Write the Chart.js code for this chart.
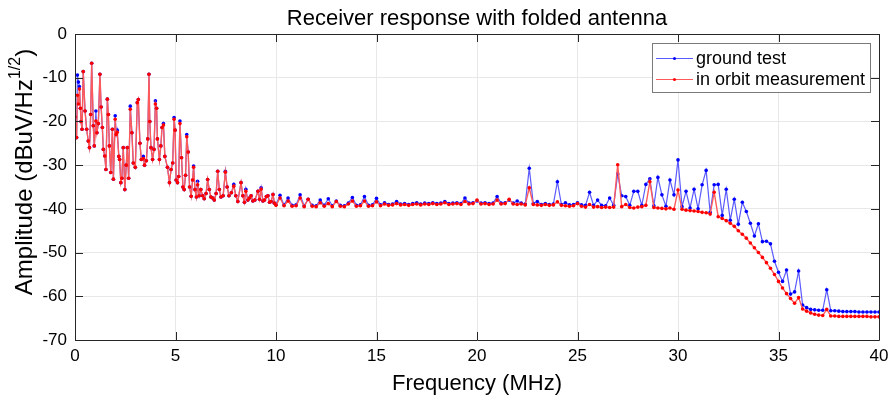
<!DOCTYPE html>
<html><head><meta charset="utf-8">
<script src="https://cdn.jsdelivr.net/npm/chart.js@4/dist/chart.umd.min.js"></script>
<style>html,body{margin:0;padding:0;background:#fff}#wrap{width:895px;height:401px}</style>
</head><body><div id="wrap"><canvas id="c" width="895" height="401"></canvas></div>
<script>
// ---- frequency (MHz), 0-10 MHz region ----
const lowFreq = [
0.00,0.08,0.12,0.17,0.22,0.27,0.30,0.35,0.41,0.50,
0.58,0.66,0.72,0.78,0.83,0.91,0.96,1.04,1.09,1.16,
1.24,1.30,1.36,1.41,1.48,1.54,1.61,1.66,1.71,1.78,
1.86,1.91,2.00,2.05,2.10,2.18,2.22,2.28,2.33,2.40,
2.48,2.55,2.60,2.67,2.75,2.83,2.90,3.00,3.10,3.15,
3.23,3.30,3.40,3.46,3.55,3.62,3.68,3.72,3.78,3.86,
3.93,4.00,4.06,4.10,4.20,4.27,4.33,4.40,4.47,4.60,
4.70,4.78,4.86,4.93,4.98,5.03,5.10,5.16,5.22,5.30,
5.37,5.43,5.50,5.56,5.63,5.70,5.78,5.85,5.90,5.97,
6.04,6.10,6.18,6.26,6.35,6.43,6.52,6.60,6.68,6.76,
6.85,6.93,7.02,7.10,7.18,7.26,7.37,7.48,7.57,7.66,
7.78,7.90,8.00,8.10,8.26,8.35,8.43,8.50,8.60,8.68,
8.76,8.85,8.95,9.10,9.18,9.26,9.35,9.43,9.52,9.60,
9.68,9.76,9.85,9.92];
const lowGround = [
-19.0,-23.7,-9.4,-11.0,-12.0,-17.0,-20.0,-21.8,-8.6,-17.6,
-21.8,-24.5,-26.0,-18.4,-6.7,-21.0,-25.6,-17.6,-22.6,-20.5,
-9.2,-16.7,-21.4,-26.4,-27.9,-31.0,-14.9,-18.4,-25.6,-31.7,
-21.8,-33.2,-18.7,-23.0,-22.0,-28.0,-28.7,-34.0,-33.0,-26.0,
-35.6,-30.0,-26.0,-33.0,-16.5,-22.6,-29.5,-30.5,-15.7,-15.0,
-25.0,-28.7,-28.0,-30.0,-29.0,-24.0,-9.2,-20.0,-26.0,-28.7,
-26.4,-15.3,-17.0,-24.0,-28.7,-25.6,-21.4,-20.5,-28.0,-30.5,
-34.0,-31.0,-29.5,-19.1,-22.0,-33.4,-34.0,-32.6,-19.9,-28.3,
-35.0,-35.6,-32.3,-23.0,-27.0,-35.0,-37.1,-33.4,-30.2,-35.6,
-37.3,-33.7,-37.0,-35.6,-37.0,-37.7,-36.5,-33.3,-35.6,-37.3,
-37.5,-38.0,-36.5,-31.4,-35.6,-37.3,-37.0,-31.4,-35.0,-37.0,
-36.3,-34.4,-37.0,-38.3,-34.0,-37.0,-38.5,-35.5,-38.0,-37.5,
-37.0,-38.2,-38.0,-36.0,-37.8,-35.2,-38.2,-38.0,-37.2,-37.0,
-38.5,-38.3,-36.7,-38.7];
const lowOrbit = [
-19.0,-23.7,-14.0,-16.0,-12.6,-17.0,-20.0,-21.8,-8.6,-17.6,
-21.8,-24.5,-26.0,-18.4,-6.7,-21.0,-25.6,-19.9,-22.6,-20.5,
-9.2,-16.7,-21.4,-26.4,-27.9,-31.0,-14.9,-18.4,-25.6,-31.7,
-21.8,-33.2,-19.5,-23.0,-22.5,-28.0,-28.7,-34.0,-33.0,-26.0,
-35.6,-30.0,-26.0,-33.0,-17.2,-22.6,-29.5,-30.5,-15.7,-15.0,
-25.0,-28.7,-28.5,-30.0,-29.0,-24.0,-9.2,-20.0,-26.0,-28.7,
-26.4,-16.0,-17.0,-24.0,-28.7,-25.6,-21.4,-20.8,-28.0,-30.5,
-34.0,-31.0,-29.5,-19.5,-22.0,-33.4,-34.0,-32.6,-20.5,-28.3,
-35.0,-35.6,-32.3,-23.5,-27.0,-35.0,-37.1,-33.4,-30.5,-35.6,
-37.3,-34.5,-37.0,-35.6,-37.0,-37.7,-36.5,-33.3,-35.6,-37.3,
-37.5,-38.0,-36.5,-31.4,-35.6,-37.3,-37.0,-31.6,-35.0,-37.0,
-36.3,-34.8,-37.0,-38.3,-34.0,-37.0,-38.5,-36.0,-38.0,-37.5,
-37.0,-38.2,-38.0,-36.0,-37.8,-35.5,-38.2,-38.0,-37.2,-37.0,
-38.5,-38.3,-36.7,-38.7];

// ---- frequency (MHz), 10-40 MHz region ----
const highFreq = [
10.0,10.2,10.4,10.6,10.8, 11.0,11.2,11.4,11.6,11.8,
12.0,12.2,12.4,12.6,12.8, 13.0,13.2,13.4,13.6,13.8,
14.0,14.2,14.4,14.6,14.8, 15.0,15.2,15.4,15.6,15.8,
16.0,16.2,16.4,16.6,16.8, 17.0,17.2,17.4,17.6,17.8,
18.0,18.2,18.4,18.6,18.8, 19.0,19.2,19.4,19.6,19.8,
20.0,20.2,20.4,20.6,20.8, 21.0,21.2,21.4,21.6,21.8,
22.0,22.2,22.4,22.6,22.8, 23.0,23.2,23.4,23.6,23.8,
24.0,24.2,24.4,24.6,24.8, 25.0,25.2,25.4,25.6,25.8,
26.0,26.2,26.4,26.6,26.8, 27.0,27.2,27.4,27.6,27.8,
28.0,28.2,28.4,28.6,28.8, 29.0,29.2,29.4,29.6,29.8,
30.0,30.2,30.4,30.6,30.8, 31.0,31.2,31.4,31.6,31.8,
32.0,32.2,32.4,32.6,32.8, 33.0,33.2,33.4,33.6,33.8,
34.0,34.2,34.4,34.6,34.8, 35.0,35.2,35.4,35.6,35.8,
36.0,36.2,36.4,36.6,36.8, 37.0,37.2,37.4,37.6,37.8,
38.0,38.2,38.4,38.6,38.8, 39.0,39.2,39.4,39.6,39.8,
40.0];
const highGround = [
-39.0,-36.9,-39.1,-37.5,-39.2, -39.1,-36.8,-39.3,-37.8,-39.2,
-39.3,-38.0,-39.2,-37.7,-39.3, -38.2,-39.2,-39.3,-38.7,-37.4,
-39.2,-39.1,-37.2,-39.2,-39.1, -37.6,-39.1,-38.6,-39.0,-38.9,
-38.3,-38.9,-38.8,-39.0,-38.8, -38.6,-38.9,-38.7,-38.8,-38.6,
-38.8,-38.7,-38.3,-38.8,-38.7, -38.6,-38.8,-37.5,-38.7,-38.6,
-38.2,-38.7,-38.6,-38.8,-38.7, -37.2,-38.7,-38.6,-38.0,-38.7,
-38.2,-38.7,-38.9,-30.7,-38.8, -38.3,-39.0,-38.8,-39.0,-38.9,
-33.8,-39.0,-38.6,-39.1,-39.0, -38.6,-39.1,-39.2,-36.2,-39.2,
-38.0,-39.2,-39.3,-37.5,-39.2, -32.0,-37.0,-37.2,-39.2,-36.0,
-36.0,-39.2,-34.4,-33.1,-39.3, -32.8,-36.8,-39.4,-33.4,-36.8,
-28.8,-39.5,-36.0,-39.8,-35.5, -40.0,-34.5,-31.2,-40.8,-34.5,
-34.4,-41.5,-35.5,-42.6,-37.8, -43.5,-38.5,-40.6,-43.3,-46.2,
-43.4,-47.5,-47.4,-48.0,-52.0, -54.5,-56.6,-54.0,-59.5,-59.0,
-54.2,-62.0,-62.6,-63.0,-63.1, -63.2,-63.2,-58.5,-63.3,-63.3,
-63.4,-63.5,-63.5,-63.5,-63.5, -63.6,-63.6,-63.6,-63.6,-63.6,
-63.6];
const highOrbit = [
-39.2,-37.5,-39.3,-38.2,-39.4, -39.3,-37.5,-39.5,-37.8,-39.4,
-39.5,-38.6,-39.4,-38.8,-39.5, -38.3,-39.4,-39.5,-38.9,-38.2,
-39.4,-39.3,-38.2,-39.4,-39.3, -38.4,-39.3,-38.9,-39.2,-39.1,
-38.8,-39.1,-39.0,-39.2,-39.0, -38.9,-39.1,-38.9,-39.0,-38.8,
-39.0,-38.9,-38.6,-39.0,-38.9, -38.8,-39.0,-38.3,-38.9,-38.8,
-38.0,-38.9,-38.8,-39.0,-38.9, -38.0,-38.9,-38.8,-37.8,-38.9,
-39.0,-38.9,-39.1,-35.2,-39.0, -39.1,-39.2,-39.0,-39.2,-39.1,
-38.4,-39.2,-39.3,-39.4,-39.3, -38.8,-39.4,-39.6,-39.0,-39.6,
-39.5,-39.7,-39.6,-39.7,-39.6, -29.9,-39.5,-39.0,-39.7,-39.8,
-39.6,-39.5,-39.2,-33.8,-39.7, -39.8,-39.9,-40.0,-39.8,-40.1,
-35.7,-40.1,-40.3,-40.4,-40.5, -40.6,-40.8,-40.9,-41.2,-36.2,
-41.8,-42.2,-42.7,-43.3,-44.0, -45.0,-45.8,-46.7,-47.8,-48.9,
-50.0,-51.1,-52.3,-53.6,-55.0, -56.6,-58.1,-59.4,-60.5,-61.6,
-60.3,-62.9,-63.4,-63.8,-64.1, -64.3,-64.4,-63.0,-64.5,-64.5,
-64.6,-64.6,-64.6,-64.6,-64.6, -64.6,-64.6,-64.6,-64.7,-64.7,
-64.7];

const xTicks = [0,5,10,15,20,25,30,35,40];
const yTicks = [0,-10,-20,-30,-40,-50,-60,-70];
const seriesNames = ['ground test','in orbit measurement'];
const chartTitle = 'Receiver response with folded antenna';

const freq = lowFreq.concat(highFreq);
const ground = lowGround.concat(highGround);
const orbit = lowOrbit.concat(highOrbit);
const toPts = v => freq.map((f,i)=>({x:f,y:v[i]}));

const AX = '#262626';
const FONT = '"Liberation Sans", Arial, Helvetica, sans-serif';

const framePlugin = {
  id:'frame',
  afterDatasetsDraw(chart){
    const {ctx, chartArea:a, scales:{x,y}} = chart;
    ctx.save();
    ctx.strokeStyle = AX; ctx.lineWidth = 1;
    ctx.beginPath();
    ctx.rect(Math.round(a.left)+0.5, Math.round(a.top)+0.5, Math.round(a.right-a.left), Math.round(a.bottom-a.top));
    const L = 8;
    xTicks.forEach(t=>{ const p=Math.round(x.getPixelForValue(t))+0.5;
      ctx.moveTo(p,a.bottom); ctx.lineTo(p,a.bottom-L);
      ctx.moveTo(p,a.top); ctx.lineTo(p,a.top+L); });
    yTicks.forEach(t=>{ const p=Math.round(y.getPixelForValue(t))+0.5;
      ctx.moveTo(a.left,p); ctx.lineTo(a.left+L,p);
      ctx.moveTo(a.right,p); ctx.lineTo(a.right-L,p); });
    ctx.stroke();
    // title centred over the axes
    ctx.fillStyle='#000'; ctx.font='22px '+FONT; ctx.textAlign='center'; ctx.textBaseline='alphabetic';
    ctx.fillText(chartTitle, (a.left+a.right)/2, 25);
    // legend
    const bx=652, by=43, bw=218, bh=49;
    ctx.fillStyle='#fff'; ctx.fillRect(bx,by,bw,bh);
    ctx.strokeStyle='#7a7a7a'; ctx.strokeRect(bx+0.5,by+0.5,bw,bh);
    const cols=['#0000ff','#ff0000'];
    const lcols=['rgb(90,90,255)','rgb(255,90,90)'];
    const rows=[58,79];
    ctx.font = '18px '+FONT; ctx.textBaseline='middle'; ctx.textAlign='left';
    rows.forEach((ry,i)=>{
      ctx.strokeStyle=lcols[i]; ctx.lineWidth=1;
      ctx.beginPath(); ctx.moveTo(656,ry+0.5); ctx.lineTo(693,ry+0.5); ctx.stroke();
      ctx.fillStyle=cols[i]; ctx.beginPath(); ctx.arc(674.5,ry+0.5,1.5,0,Math.PI*2); ctx.fill();
      ctx.fillStyle='#000'; ctx.fillText(seriesNames[i],696,ry+1);
    });
    // y axis title with superscript
    ctx.save();
    ctx.translate(24, 172);
    ctx.rotate(-Math.PI/2);
    const big='24px '+FONT, small='16px '+FONT;
    const p1='Amplitude (dBuV/Hz', p2='1/2', p3=')';
    ctx.font=big; const w1=ctx.measureText(p1).width, w3=ctx.measureText(p3).width;
    ctx.font=small; const w2=ctx.measureText(p2).width;
    let sx=-(w1+w2+w3)/2;
    ctx.fillStyle='#000'; ctx.textBaseline='alphabetic';
    ctx.font=big; ctx.fillText(p1,sx,8); sx+=w1;
    ctx.font=small; ctx.fillText(p2,sx,-4); sx+=w2;
    ctx.font=big; ctx.fillText(p3,sx,8);
    ctx.restore();
    ctx.restore();
  }
};

new Chart(document.getElementById('c'), {
  type:'line',
  data:{ datasets:[
    {label:seriesNames[0], order:1, data:toPts(ground), borderColor:'rgb(90,90,255)', backgroundColor:'#0000ff',
     pointBackgroundColor:'#0000ff', pointBorderWidth:0, pointRadius:1.8, borderWidth:1.2, tension:0},
    {label:seriesNames[1], order:0, data:toPts(orbit), borderColor:'rgb(255,90,90)', backgroundColor:'#ff0000',
     pointBackgroundColor:'#ff0000', pointBorderWidth:0, pointRadius:1.8, borderWidth:1.4, tension:0}
  ]},
  options:{
    responsive:false, devicePixelRatio:1, animation:false,
    layout:{padding:{left:0,right:16,top:34,bottom:0}},
    plugins:{ legend:{display:false}, tooltip:{enabled:false}, title:{display:false} },
    scales:{
      x:{type:'linear', min:0, max:40,
        afterBuildTicks(s){ s.ticks = xTicks.map(v=>({value:v})); },
        ticks:{color:'#000', font:{family:FONT,size:17}, padding:6, maxRotation:0, autoSkip:false},
        grid:{color:'#e8e8e8', drawTicks:false}, border:{display:false},
        title:{display:true, text:'Frequency (MHz)', color:'#000', font:{family:FONT,size:22}, padding:{top:0,bottom:4}},
        afterFit(s){ s.height = 61; }
      },
      y:{type:'linear', min:-70, max:0,
        afterBuildTicks(s){ s.ticks = yTicks.map(v=>({value:v})); },
        ticks:{color:'#000', font:{family:FONT,size:17}, padding:8},
        grid:{color:'#e8e8e8', drawTicks:false}, border:{display:false},
        afterFit(s){ s.width = 75; }
      }
    }
  },
  plugins:[framePlugin]
});
</script></body></html>
